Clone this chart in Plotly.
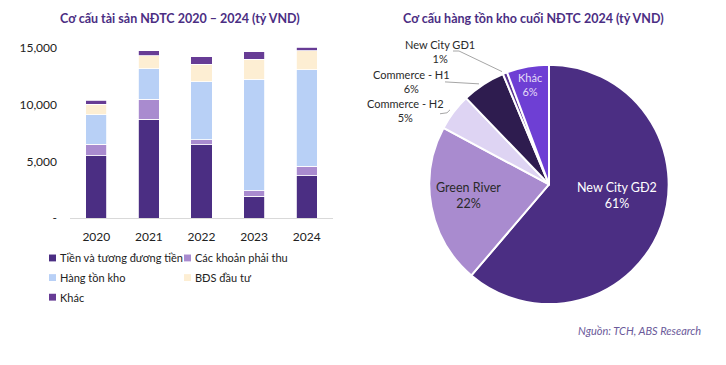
import plotly.graph_objects as go

W, H = 726, 365

def px(x, y):
    return x / W, 1 - y / H

# ---- Bar chart data (tỷ VND) ----
years = ["2020", "2021", "2022", "2023", "2024"]
tien = [5480, 8700, 6460, 1930, 3720]
phai_thu = [1010, 1790, 460, 460, 830]
hang_ton_kho = [2620, 2680, 5100, 9860, 8540]
bds_dau_tu = [920, 1160, 1560, 1730, 1670]
khac = [370, 400, 630, 690, 320]

series_names = ["Tiền và tương đương tiền", "Các khoản phải thu", "Hàng tồn kho", "BĐS đầu tư", "Khác"]
series_values = [tien, phai_thu, hang_ton_kho, bds_dau_tu, khac]
series_colors = ["#4B2E83", "#A98BCF", "#B8D0F6", "#FDEED3", "#673C95"]

y_tickvals = [0, 5000, 10000, 15000]
y_ticktext = ["-", "5,000", "10,000", "15,000"]

# ---- Pie data (tỷ VND) ----
pie_labels = ["New City GĐ2", "Green River", "Commerce - H2", "Commerce - H1", "New City GĐ1", "Khác"]
pie_values = [5235, 1845, 427, 504, 51, 487]
pie_colors = ["#4B2E83", "#A98BCF", "#DED4F3", "#2E1C4F", "#5A3490", "#6E3FD4"]

FONT = "Lato"
TITLE_COLOR = "#4B2E83"

fig = go.Figure()

for name, vals, col in zip(series_names, series_values, series_colors):
    fig.add_trace(go.Bar(
        x=years, y=vals, name=name,
        marker=dict(color=col, line=dict(color="white", width=0.8)),
        showlegend=False, xaxis="x", yaxis="y",
    ))

x0, x1 = 70, 333
y_bottom, y_top = 222.3, 37.3
fig.update_layout(
    barmode="stack",
    bargap=0.6,
    xaxis=dict(
        domain=[x0 / W, x1 / W], anchor="y",
        showline=True, linecolor="#D9D9D9", linewidth=1,
        showgrid=False, ticks="", ticklabelstandoff=8,
        tickfont=dict(family=FONT, size=12, color="#222222"),
    ),
    yaxis=dict(
        domain=[1 - y_bottom / H, 1 - y_top / H], anchor="x",
        range=[0, 16000], showgrid=False, zeroline=False, showline=False,
        tickvals=y_tickvals, ticktext=y_ticktext, ticks="",
        ticklabelstandoff=12,
        tickfont=dict(family=FONT, size=12, color="#222222"),
    ),
)

# ---- Pie ----
cx, cy, r = 549, 188, 122
fig.add_trace(go.Pie(
    labels=pie_labels, values=pie_values, sort=False, direction="clockwise",
    rotation=0, marker=dict(colors=pie_colors, line=dict(color="white", width=2)),
    textinfo="none", showlegend=False, hoverinfo="label+percent",
    domain=dict(x=[(cx - r) / W, (cx + r) / W], y=[1 - (cy + r) / H, 1 - (cy - r) / H]),
))

annotations = []
shapes = []

def ann(x, y, text, size, color, xanchor="center"):
    tx, ty = px(x, y)
    annotations.append(dict(x=tx, y=ty, xref="paper", yref="paper", showarrow=False,
                            xanchor=xanchor, yanchor="middle", text=text, align="center",
                            font=dict(family=FONT, size=size, color=color)))

# Titles
ann(180, 19, "<b>Cơ cấu tài sản NĐTC 2020 – 2024 (tỷ VND)</b>", 12.5, TITLE_COLOR)
ann(533, 19, "<b>Cơ cấu hàng tồn kho cuối NĐTC 2024 (tỷ VND)</b>", 12.5, TITLE_COLOR)

# Manual legend (2 columns, 3 rows)
legend_pos = [(49, 263), (184, 263), (49, 283), (184, 283), (49, 303)]
for (lx, ly), name, col in zip(legend_pos, series_names, series_colors):
    ax0, ay0 = px(lx, ly - 3.5)
    ax1, ay1 = px(lx + 7, ly + 3.5)
    shapes.append(dict(type="rect", xref="paper", yref="paper", x0=ax0, x1=ax1, y0=ay1, y1=ay0,
                       fillcolor=col, line=dict(width=0)))
    ann(lx + 8.5, ly, name, 11, "#222222", xanchor="left")

# Pie labels
total = sum(pie_values)
pct = [round(v / total * 100) for v in pie_values]
label_pos = {
    "New City GĐ2": (617, 199, "white", 12.5),
    "Green River": (468, 199, "#2A2A2A", 12.5),
    "Commerce - H2": (405, 113, "#2A2A2A", 11),
    "Commerce - H1": (411, 83, "#2A2A2A", 11),
    "New City GĐ1": (440, 52, "#2A2A2A", 11),
    "Khác": (530, 86, "#E4DCF7", 11),
}
for lab, p in zip(pie_labels, pct):
    lx, ly, col, sz = label_pos[lab]
    ann(lx, ly, f"{lab}<br>{p}%", sz, col)

# Leader lines
def path(points):
    d = ""
    for i, (x, y) in enumerate(points):
        X, Y = px(x, y)
        d += ("M" if i == 0 else "L") + f"{X},{Y} "
    return d.strip()

for pts in [
    [(453, 52), (459, 52), (502, 73)],
    [(445, 83.5), (479, 85.5)],
    [(440, 116), (447, 115), (450, 112)],
]:
    shapes.append(dict(type="path", xref="paper", yref="paper", path=path(pts),
                       line=dict(color="#A6A6A6", width=1)))

# Source
ann(703, 337, "<i>Nguồn: TCH, ABS Research</i>", 11, "#6B5A9A", xanchor="right")

fig.update_layout(
    width=W, height=H, autosize=False,
    margin=dict(l=0, r=0, t=0, b=0),
    paper_bgcolor="white", plot_bgcolor="white",
    annotations=annotations, shapes=shapes,
)

post = (
    "var d=document.getElementById('{plot_id}');"
    "if(d&&d.parentElement){d.parentElement.style.height='365px';d.parentElement.style.overflow='hidden';}"
    "document.body.style.margin='0';document.body.style.padding='0';"
    "document.body.style.overflow='hidden';document.documentElement.style.overflow='hidden';"
)
fig.write_html("out.html", config={"displayModeBar": False}, post_script=post)
